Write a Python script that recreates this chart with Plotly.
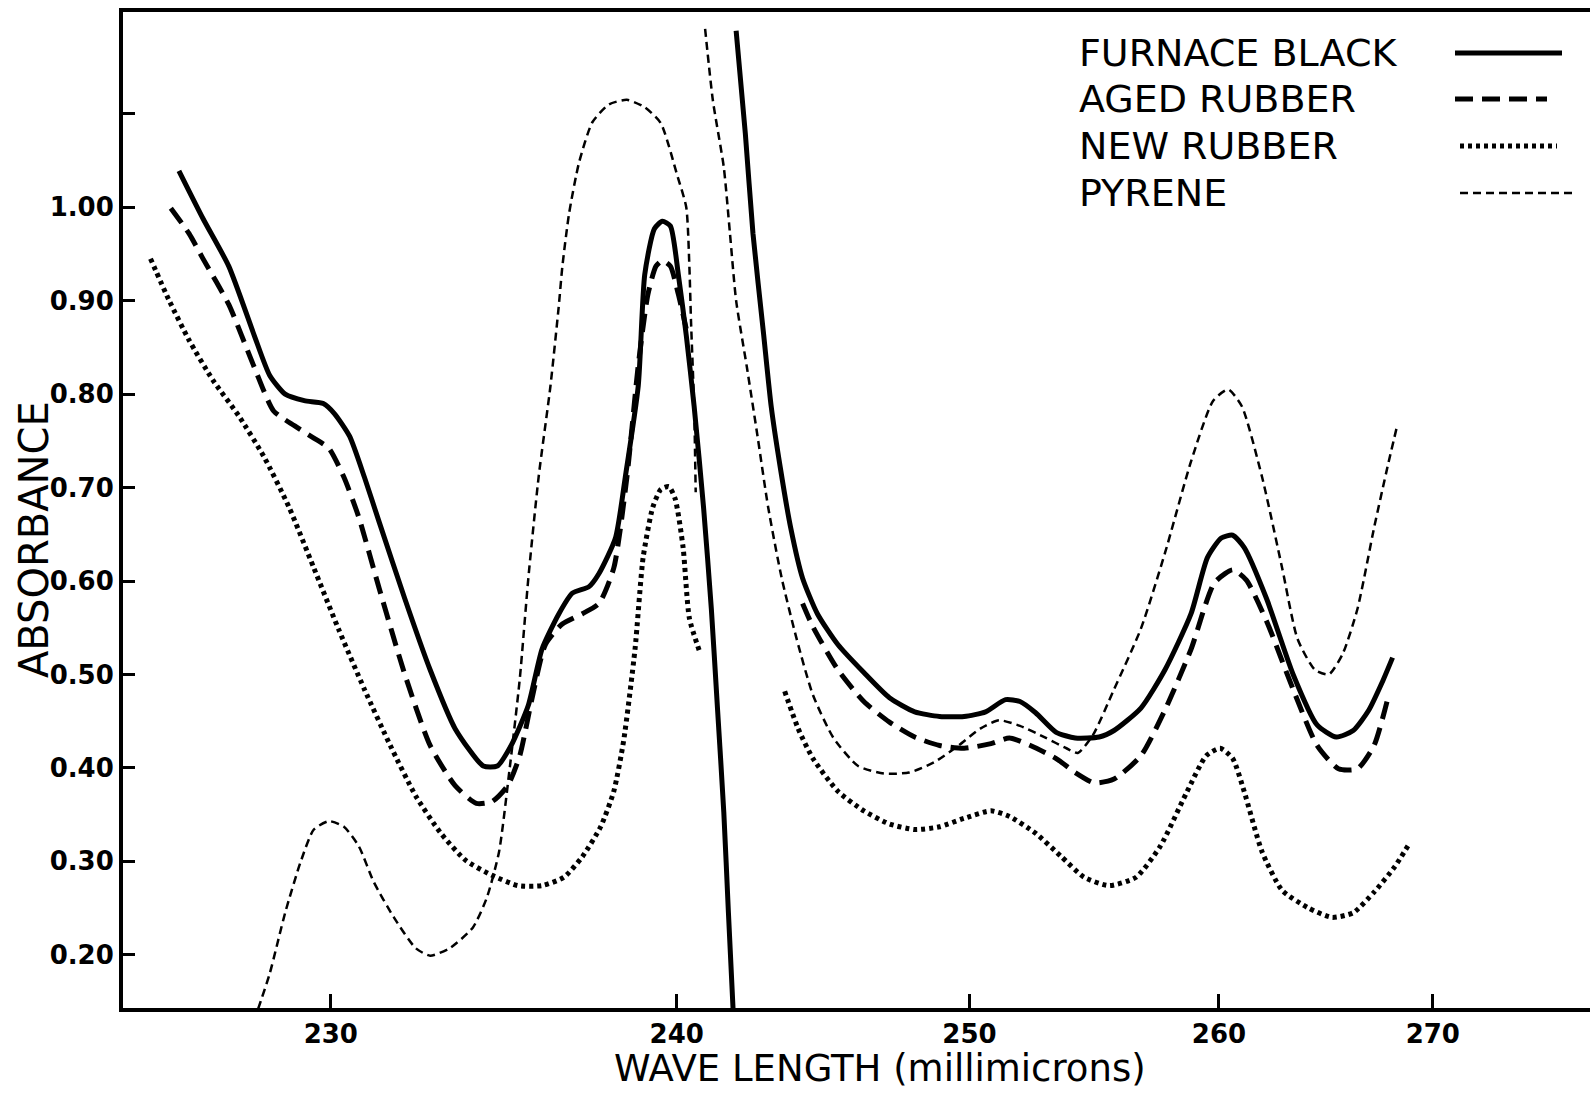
import numpy as np
import plotly.graph_objects as go

# ---------------- data (wavelength in millimicrons, absorbance) ----------------
fb1_wl = [226.1, 226.7, 227.35, 228.0, 228.4, 228.8, 229.3, 229.8, 230.1, 230.5, 230.9, 231.3, 232.0, 232.7,
          233.4, 234.2, 234.6, 235.0, 235.5, 235.9, 236.4, 236.8, 237.3, 237.6, 238.1, 238.4, 238.8, 239.0,
          239.3, 239.55, 239.8, 240.05, 240.3, 240.55, 240.85, 241.1, 241.3, 241.5, 241.65, 241.8]
fb1_ab = [1.039, 0.988, 0.937, 0.863, 0.820, 0.800, 0.793, 0.790, 0.779, 0.755, 0.711, 0.663, 0.581, 0.505,
          0.442, 0.402, 0.402, 0.424, 0.467, 0.527, 0.565, 0.587, 0.594, 0.608, 0.646, 0.711, 0.809, 0.928,
          0.977, 0.985, 0.980, 0.928, 0.863, 0.787, 0.679, 0.570, 0.462, 0.353, 0.245, 0.142]

fb2_wl = [241.9, 242.2, 242.45, 242.8, 243.05, 243.35, 243.7, 244.1, 244.6, 245.3, 246.2, 247.1, 248.0, 248.9,
          249.8, 250.6, 251.35, 251.9, 252.5, 253.3, 254.05, 255.0, 255.6, 256.7, 257.7, 258.8, 259.5, 260.1,
          260.6, 261.1, 262.1, 263.3, 264.4, 265.3, 266.1, 266.85, 267.5, 268.0]
fb2_ab = [1.189, 1.079, 0.972, 0.864, 0.787, 0.722, 0.657, 0.603, 0.565, 0.532, 0.502, 0.475, 0.460, 0.455,
          0.455, 0.460, 0.473, 0.471, 0.459, 0.438, 0.432, 0.433, 0.440, 0.464, 0.505, 0.565, 0.625, 0.646,
          0.649, 0.636, 0.581, 0.500, 0.446, 0.433, 0.440, 0.462, 0.492, 0.518]

ag1_wl = [225.9, 226.35, 226.7, 227.35, 228.0, 228.5, 229.05, 229.55, 229.95, 230.35, 230.75, 231.3, 232.0,
          232.7, 233.4, 234.0, 234.45, 234.9, 235.25, 235.6, 236.0, 236.5, 237.1, 237.6, 238.05, 238.45,
          238.8, 239.1, 239.35, 239.55, 239.8, 240.05, 240.3]
ag1_ab = [0.999, 0.972, 0.945, 0.896, 0.829, 0.782, 0.766, 0.753, 0.742, 0.711, 0.668, 0.592, 0.500,
          0.424, 0.381, 0.362, 0.364, 0.381, 0.413, 0.473, 0.532, 0.554, 0.565, 0.576, 0.614, 0.711,
          0.831, 0.907, 0.937, 0.943, 0.937, 0.907, 0.870]

ag2_wl = [244.1, 244.45, 245.3, 246.2, 247.1, 248.0, 248.9, 249.8, 250.8, 251.5, 252.3, 253.3, 254.05, 254.8,
          255.6, 256.7, 257.7, 258.8, 259.8, 260.6, 261.2, 262.1, 263.3, 264.4, 265.4, 266.3, 267.1, 267.75]
ag2_ab = [0.576, 0.551, 0.505, 0.471, 0.449, 0.433, 0.424, 0.421, 0.426, 0.432, 0.424, 0.410, 0.395, 0.384,
          0.388, 0.413, 0.462, 0.527, 0.598, 0.612, 0.601, 0.557, 0.484, 0.424, 0.399, 0.399, 0.424, 0.473]

nr1_wl = [225.4, 225.85, 226.35, 226.95, 227.6, 228.25, 228.9, 229.55, 230.2, 230.9, 231.6, 232.3, 233.0,
          233.7, 234.45, 235.2, 235.9, 236.55, 237.1, 237.65, 238.05, 238.35, 238.7, 238.95, 239.25, 239.5,
          239.75, 239.95, 240.2, 240.4, 240.75]
nr1_ab = [0.945, 0.901, 0.858, 0.815, 0.777, 0.733, 0.679, 0.614, 0.549, 0.484, 0.424, 0.370, 0.330,
          0.301, 0.285, 0.274, 0.274, 0.283, 0.305, 0.337, 0.375, 0.429, 0.527, 0.625, 0.679, 0.698,
          0.701, 0.688, 0.636, 0.560, 0.522]

nr2_wl = [243.5, 243.95, 244.45, 245.3, 246.2, 247.1, 248.0, 248.9, 249.8, 250.8, 251.5, 252.5, 253.5, 254.4,
          255.4, 256.5, 257.5, 258.6, 259.45, 260.05, 260.6, 261.1, 261.9, 262.8, 264.0, 265.1, 266.1, 267.1,
          268.1, 268.8]
nr2_ab = [0.482, 0.442, 0.410, 0.375, 0.354, 0.340, 0.334, 0.337, 0.346, 0.354, 0.348, 0.330, 0.305, 0.283,
          0.274, 0.283, 0.316, 0.373, 0.413, 0.421, 0.410, 0.375, 0.310, 0.269, 0.250, 0.240, 0.245, 0.267,
          0.294, 0.318]

py1_wl = [228.1, 228.4, 228.8, 229.2, 229.55, 229.95, 230.35, 230.75, 231.15, 231.7, 232.3, 232.7, 233.25,
          233.9, 234.3, 234.65, 234.95, 235.25, 235.5, 235.8, 236.15, 236.4, 236.5, 236.7, 237.0, 237.4,
          237.9, 238.45, 239.0, 239.5, 240.0, 240.3, 240.4, 240.45, 240.55, 240.6]
py1_ab = [0.142, 0.180, 0.245, 0.299, 0.334, 0.343, 0.337, 0.316, 0.278, 0.240, 0.207, 0.199, 0.207,
          0.229, 0.261, 0.310, 0.397, 0.495, 0.603, 0.711, 0.809, 0.896, 0.936, 0.993, 1.048, 1.091,
          1.110, 1.115, 1.107, 1.090, 1.036, 1.000, 0.936, 0.879, 0.787, 0.695]

py2_wl = [240.9, 241.15, 241.5, 241.7, 241.9, 242.25, 242.6, 242.95, 243.4, 243.9, 244.45, 245.15, 246.0,
          246.9, 247.8, 248.7, 249.6, 250.4, 251.1, 251.9, 252.9, 253.7, 254.15, 254.75, 255.6, 256.7, 257.7,
          258.8, 259.75, 260.4, 261.0, 261.9, 262.8, 263.5, 264.3, 264.95, 265.6, 266.3, 267.1, 267.75, 268.2]
py2_ab = [1.191, 1.114, 1.043, 0.972, 0.900, 0.829, 0.755, 0.679, 0.603, 0.538, 0.478, 0.432, 0.402,
          0.394, 0.395, 0.406, 0.424, 0.442, 0.451, 0.445, 0.432, 0.421, 0.416, 0.435, 0.484, 0.549, 0.630,
          0.728, 0.793, 0.805, 0.787, 0.711, 0.614, 0.538, 0.505, 0.500, 0.522, 0.570, 0.657, 0.722, 0.764]

x_ticks = [230, 240, 250, 260, 270]
y_ticks = [0.20, 0.30, 0.40, 0.50, 0.60, 0.70, 0.80, 0.90, 1.00, 1.10]
y_ticktext = ["0.20", "0.30", "0.40", "0.50", "0.60", "0.70", "0.80", "0.90", "1.00", ""]
legend_names = ["FURNACE BLACK", "AGED RUBBER", "NEW RUBBER", "PYRENE"]


# The wavelength scale of the original is linear in 1/lambda^3
def xt(wl):
    return -1e8 / np.asarray(wl, dtype=float) ** 3


styles = {
    "FURNACE BLACK": dict(width=5, dash="solid"),
    "AGED RUBBER": dict(width=5, dash="18px,9px"),
    "NEW RUBBER": dict(width=5, dash="4px,4px"),
    "PYRENE": dict(width=2.5, dash="8px,5px"),
}

series = [
    ("FURNACE BLACK", fb1_wl, fb1_ab), ("FURNACE BLACK", fb2_wl, fb2_ab),
    ("AGED RUBBER", ag1_wl, ag1_ab), ("AGED RUBBER", ag2_wl, ag2_ab),
    ("NEW RUBBER", nr1_wl, nr1_ab), ("NEW RUBBER", nr2_wl, nr2_ab),
    ("PYRENE", py1_wl, py1_ab), ("PYRENE", py2_wl, py2_ab),
]

fig = go.Figure()
for name, wl, ab in series:
    st = styles[name]
    fig.add_trace(go.Scatter(
        x=xt(wl), y=ab, mode="lines", name=name, showlegend=False,
        line=dict(color="black", width=st["width"], dash=st["dash"], shape="spline", smoothing=0.6),
        hoverinfo="skip"))

FONT = "DejaVu Sans"

fig.update_layout(
    width=1590, height=1099,
    margin=dict(l=123, r=0, t=12, b=91),
    paper_bgcolor="white", plot_bgcolor="white",
    font=dict(family=FONT, color="black"),
    xaxis=dict(
        range=list(xt([224.73, 278.43])),
        tickvals=list(xt(x_ticks)), ticktext=[str(t) for t in x_ticks],
        ticks="inside", ticklen=14, tickwidth=3, tickcolor="black",
        showline=True, linecolor="black", linewidth=4, mirror=True,
        showgrid=False, zeroline=False,
        tickfont=dict(family=FONT, size=26, weight="bold"),
    ),
    yaxis=dict(
        range=[0.143, 1.209],
        tickvals=y_ticks, ticktext=y_ticktext,
        ticks="inside", ticklen=12, tickwidth=3, tickcolor="black",
        showline=True, linecolor="black", linewidth=4, mirror=False,
        showgrid=False, zeroline=False,
        tickfont=dict(family=FONT, size=26, weight="bold"),
    ),
)

PL, PW, PB, PH = 123, 1467, 1008, 996


def px(x):
    return (x - PL) / PW


def py(y):
    return (PB - y) / PH


annotations = [
    dict(text="WAVE LENGTH (millimicrons)", x=px(880), y=py(1068), xref="paper", yref="paper",
         showarrow=False, font=dict(family=FONT, size=37), xanchor="center", yanchor="middle"),
    dict(text="ABSORBANCE", x=px(34), y=py(540), xref="paper", yref="paper", textangle=-90,
         showarrow=False, font=dict(family=FONT, size=40), xanchor="center", yanchor="middle"),
]
legend_rows = [53, 99, 146, 193]
sample_x = [(1455, 1562), (1455, 1547), (1460, 1557), (1460, 1577)]
shapes = []
for name, yr, (x0, x1) in zip(legend_names, legend_rows, sample_x):
    annotations.append(dict(text=name, x=px(1077), y=py(yr), xref="paper", yref="paper",
                            showarrow=False, font=dict(family=FONT, size=38),
                            xanchor="left", yanchor="middle"))
    st = styles[name]
    shapes.append(dict(type="line", xref="paper", yref="paper", x0=px(x0), x1=px(x1),
                       y0=py(yr), y1=py(yr),
                       line=dict(color="black", width=st["width"], dash=st["dash"])))

fig.update_layout(annotations=annotations, shapes=shapes)
fig.write_html("out.html")
